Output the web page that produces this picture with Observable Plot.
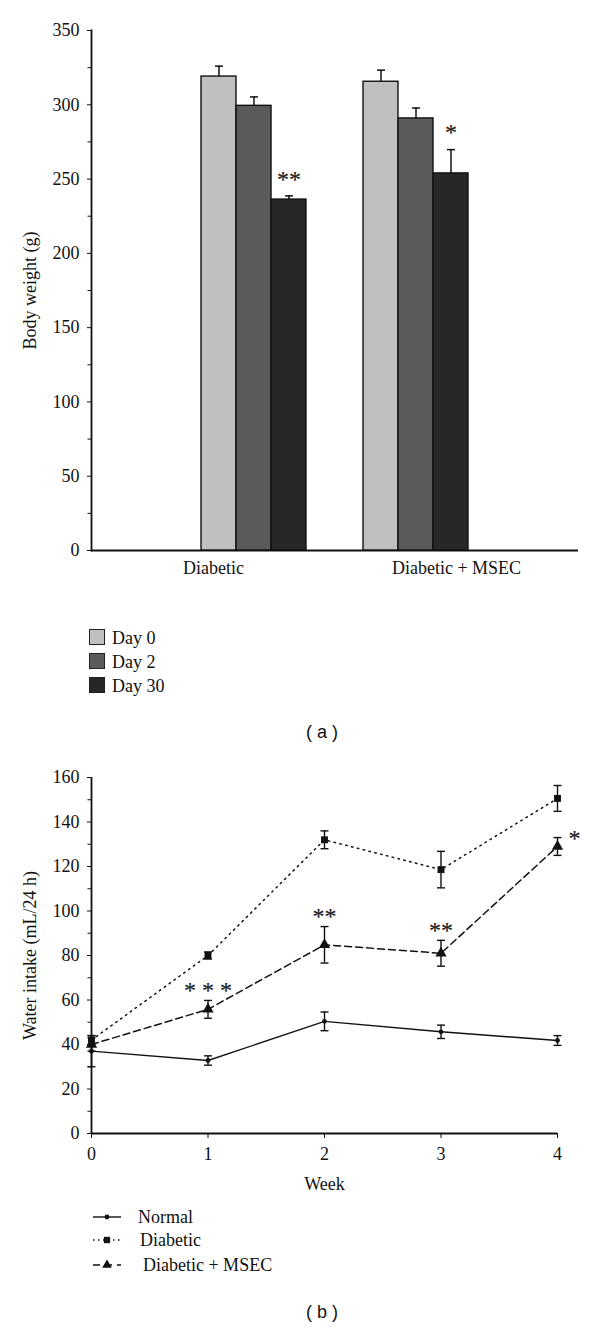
<!DOCTYPE html>
<html><head><meta charset="utf-8">
<script src="https://cdn.jsdelivr.net/npm/d3@7"></script>
<script src="https://cdn.jsdelivr.net/npm/@observablehq/plot@0.6"></script>
<style>
body{margin:0;background:#fff;}
#wrap{position:relative;width:600px;height:1340px;font-family:"Liberation Serif",serif;color:#111;overflow:hidden;background:#fff;}
.row{position:absolute;height:24px;line-height:24px;font-size:18px;white-space:nowrap;}
.sw{position:absolute;width:14px;height:14px;border:1.5px solid #222;top:3px;}
.cap{position:absolute;font-family:"Liberation Sans",Arial,sans-serif;font-size:18px;width:80px;text-align:center;line-height:24px;}
</style></head><body><div id="wrap"></div>
<script>
// ---- Panel (a): body weight ----
const groups = ["Diabetic", "Diabetic + MSEC"];
const days = ["Day 0", "Day 2", "Day 30"];
const weightDiabetic = [319, 299.3, 236.2];
const weightDiabeticErr = [7, 6, 2.5];
const weightMSEC = [315.5, 290.8, 253.8];
const weightMSECErr = [7.8, 7, 16];
const weightStarsDiabetic = ["", "", "**"];
const weightStarsMSEC = ["", "", "*"];
const weightTicks = [0, 50, 100, 150, 200, 250, 300, 350];
const weightMinorTicks = [25, 75, 125, 175, 225, 275, 325];
const dayColors = ["#c0c0c0", "#5b5b5b", "#272727"];

// ---- Panel (b): water intake ----
const weeks = [0, 1, 2, 3, 4];
const normal = [37, 32.8, 50.4, 45.7, 41.8];
const normalErr = [7, 2.1, 4.2, 3, 2.2];
const diabetic = [42, 80, 132, 118.6, 150.6];
const diabeticErr = [2, 1.6, 4, 8.2, 5.8];
const msec = [40, 55.8, 84.8, 81, 129];
const msecErr = [3, 4, 8.2, 5.8, 4];
const msecStars = ["", "* * *", "**", "**", ""];
const msecStarsSide = ["", "", "", "", "*"];
const waterTicks = [0, 20, 40, 60, 80, 100, 120, 140, 160];
const waterMinorTicks = [10, 30, 50, 70, 90, 110, 130, 150];
const seriesNames = ["Normal", "Diabetic", "Diabetic + MSEC"];

const wrap = document.getElementById("wrap");
const capSymbol = {draw(ctx, size) { const w = Math.sqrt(size / Math.PI); ctx.moveTo(-w, 0); ctx.lineTo(w, 0); }};
const place = (node, top) => { node.style.position = "absolute"; node.style.left = "0px"; node.style.top = top + "px"; wrap.appendChild(node); };
const starStyle = {fontSize: 24, fill: "#1a1a1a", stroke: "#1a1a1a", strokeWidth: 0.2};

const rowsA = [];
[[weightDiabetic, weightDiabeticErr, weightStarsDiabetic], [weightMSEC, weightMSECErr, weightStarsMSEC]].forEach(([v, e, s], gi) => {
  days.forEach((d, di) => rowsA.push({group: groups[gi], day: d, value: v[di], upper: v[di] + e[di], star: s[di]}));
});

const commonA = {
  width: 600, height: 590,
  marginLeft: 91, marginRight: 22, marginTop: 30, marginBottom: 40,
  style: {fontFamily: "Liberation Serif, serif", fontSize: "18px", color: "#111", background: "transparent", overflow: "visible"},
  y: {domain: [0, 350], axis: null}
};
const groupPadding = {paddingInner: 0.345, paddingOuter: 0.67};

// axes layer (a)
const axesA = Plot.plot({
  ...commonA,
  x: {domain: groups, ...groupPadding, axis: null},
  marks: [
    Plot.ruleY([0], {stroke: "#111", strokeWidth: 1.8}),
    Plot.frame({anchor: "left", stroke: "#111", strokeWidth: 1.8}),
    Plot.axisY({ticks: weightMinorTicks, tickSize: 3.5, tickFormat: () => "", label: null}),
    Plot.axisY({ticks: weightTicks, tickSize: 4, tickPadding: 8, label: "Body weight (g)", labelAnchor: "center", labelArrow: "none", labelOffset: 68}),
    Plot.axisX({tickSize: 0, tickPadding: 11, label: null})
  ]
});
place(axesA, 0);

// bars layer (a)
const barsA = Plot.plot({
  ...commonA,
  fx: {domain: groups, ...groupPadding, axis: null},
  x: {domain: days, axis: null, padding: 0},
  color: {domain: days, range: dayColors},
  marks: [
    Plot.ruleX(rowsA, {fx: "group", x: "day", y1: "value", y2: "upper", stroke: "#111", strokeWidth: 1.5}),
    Plot.dot(rowsA, {fx: "group", x: "day", y: "upper", symbol: capSymbol, r: 4, fill: "none", stroke: "#111", strokeWidth: 1.5}),
    Plot.barY(rowsA, {fx: "group", x: "day", y: "value", fill: "day", stroke: "#111", strokeWidth: 1.4}),
    Plot.text(rowsA, {fx: "group", x: "day", y: "upper", text: "star", dy: -17, ...starStyle})
  ]
});
place(barsA, 0);

// Legend (a)
days.forEach((d, i) => {
  const r = document.createElement("div");
  r.className = "row"; r.style.left = "89px"; r.style.top = (626 + i * 24) + "px"; r.style.width = "200px";
  r.innerHTML = `<span class="sw" style="left:0;background:${dayColors[i]}"></span><span style="position:absolute;left:23px">${d}</span>`;
  wrap.appendChild(r);
});
const capA = document.createElement("div");
capA.className = "cap"; capA.style.left = "282px"; capA.style.top = "720px"; capA.textContent = "( a )";
wrap.appendChild(capA);

// Panel (b)
const rowsB = [];
[[normal, normalErr], [diabetic, diabeticErr], [msec, msecErr]].forEach(([v, e], si) => {
  weeks.forEach((w, i) => rowsB.push({series: seriesNames[si], week: w, value: v[i], lo: v[i] - e[i], hi: v[i] + e[i],
    star: si === 2 ? msecStars[i] : "", side: si === 2 ? msecStarsSide[i] : ""}));
});
const bySeries = s => rowsB.filter(d => d.series === s);

const plotB = Plot.plot({
  width: 600, height: 443,
  marginLeft: 91, marginRight: 43, marginTop: 27, marginBottom: 60,
  style: {fontFamily: "Liberation Serif, serif", fontSize: "18px", color: "#111", background: "transparent", overflow: "visible"},
  x: {domain: [0, 4], axis: null},
  y: {domain: [0, 160], axis: null},
  marks: [
    Plot.axisY({ticks: waterMinorTicks, tickSize: 3.5, tickFormat: () => "", label: null}),
    Plot.axisY({ticks: waterTicks, tickSize: 4, tickPadding: 8, label: "Water intake (mL/24 h)", labelAnchor: "center", labelArrow: "none", labelOffset: 68}),
    Plot.axisX({ticks: weeks, tickSize: 5, tickPadding: 9, tickFormat: d3.format("d"), label: "Week", labelAnchor: "center", labelArrow: "none", labelOffset: 56}),
    Plot.ruleY([0], {stroke: "#111", strokeWidth: 1.8}),
    Plot.ruleX([0], {stroke: "#111", strokeWidth: 1.8}),
    Plot.line(bySeries("Normal"), {x: "week", y: "value", stroke: "#111", strokeWidth: 1.4}),
    Plot.line(bySeries("Diabetic"), {x: "week", y: "value", stroke: "#111", strokeWidth: 1.5, strokeDasharray: "1.5,4.5"}),
    Plot.line(bySeries("Diabetic + MSEC"), {x: "week", y: "value", stroke: "#111", strokeWidth: 1.5, strokeDasharray: "7,4"}),
    Plot.ruleX(rowsB, {x: "week", y1: "lo", y2: "hi", stroke: "#111", strokeWidth: 1.4}),
    Plot.dot(rowsB, {x: "week", y: "lo", symbol: capSymbol, r: 4, fill: "none", stroke: "#111", strokeWidth: 1.4}),
    Plot.dot(rowsB, {x: "week", y: "hi", symbol: capSymbol, r: 4, fill: "none", stroke: "#111", strokeWidth: 1.4}),
    Plot.dot(bySeries("Normal"), {x: "week", y: "value", r: 2.4, fill: "#111"}),
    Plot.dot(bySeries("Diabetic"), {x: "week", y: "value", symbol: "square", r: 3.9, fill: "#111"}),
    Plot.dot(bySeries("Diabetic + MSEC"), {x: "week", y: "value", symbol: "triangle", r: 4.2, fill: "#111"}),
    Plot.text(bySeries("Diabetic + MSEC"), {x: "week", y: "hi", text: "star", dy: -10, ...starStyle}),
    Plot.text(bySeries("Diabetic + MSEC"), {x: "week", y: "hi", text: "side", dx: 17, dy: 1, ...starStyle})
  ]
});
place(plotB, 750);

// Legend (b)
const legendB = [
  {name: "Normal", dash: null, sym: d3.symbolCircle, size: 18, textLeft: 138},
  {name: "Diabetic", dash: "1.5,3.5", sym: d3.symbolSquare, size: 40, textLeft: 140},
  {name: "Diabetic + MSEC", dash: "7,5", sym: d3.symbolTriangle, size: 40, textLeft: 143}
];
const legendTops = [1205, 1228, 1253];
legendB.forEach((s, i) => {
  const r = document.createElement("div");
  r.className = "row"; r.style.left = "0px"; r.style.top = legendTops[i] + "px"; r.style.width = "400px";
  const svg = d3.create("svg").attr("width", 32).attr("height", 24).style("position", "absolute").style("left", "91px").style("top", "0px");
  svg.append("line").attr("x1", 2).attr("x2", 30).attr("y1", 12).attr("y2", 12).attr("stroke", "#111").attr("stroke-width", 1.4)
    .attr("stroke-dasharray", s.dash);
  svg.append("path").attr("d", d3.symbol(s.sym, s.size)()).attr("transform", "translate(16,12)").attr("fill", "#111");
  r.appendChild(svg.node());
  const t = document.createElement("span");
  t.style.position = "absolute"; t.style.left = s.textLeft + "px"; t.textContent = s.name;
  r.appendChild(t);
  wrap.appendChild(r);
});
const capB = document.createElement("div");
capB.className = "cap"; capB.style.left = "282px"; capB.style.top = "1300px"; capB.textContent = "( b )";
wrap.appendChild(capB);
</script>
</body></html>
